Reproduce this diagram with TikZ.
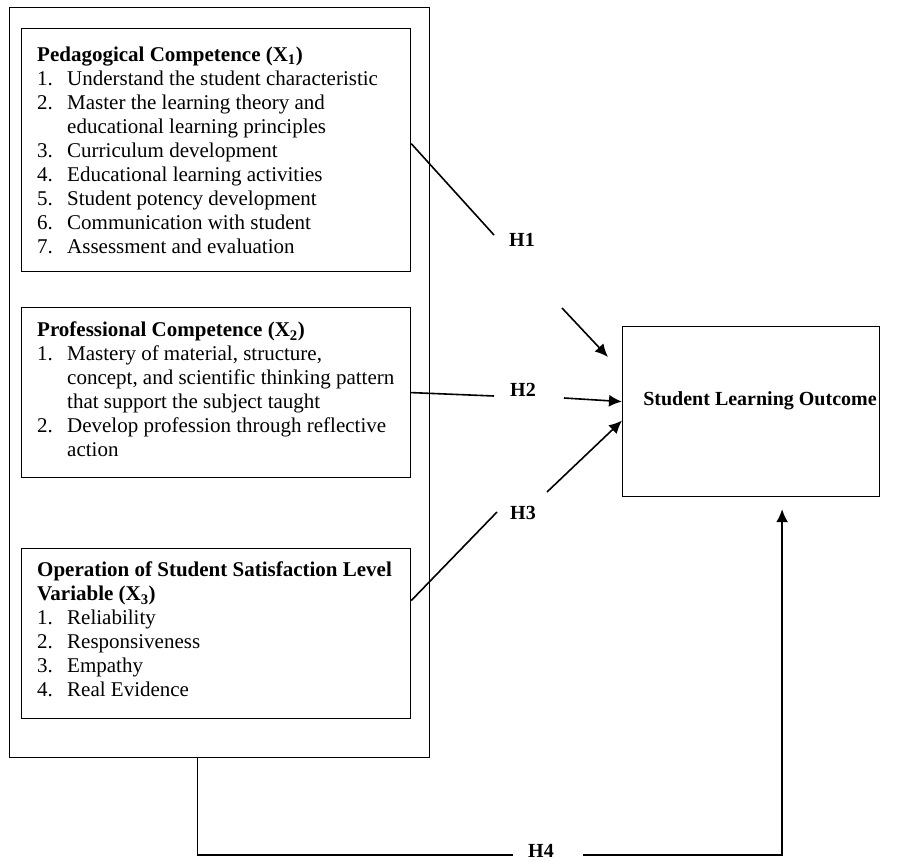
\documentclass[tikz,border=0pt]{standalone}
\usepackage{fontspec}
\setmainfont{Liberation Serif}
\usetikzlibrary{arrows.meta}
\begin{document}
\begin{tikzpicture}[x=1pt,y=-1pt,
  box/.style={draw,line width=1.2pt,inner sep=0pt,anchor=north west},
  conn/.style={line width=1.6pt},
  arr/.style={conn,-{Latex[length=13pt,width=12pt]}},
  txt/.style={inner sep=0pt,anchor=north west,align=left,font=\fontsize{21}{24}\selectfont},
  hlab/.style={inner sep=0pt,font=\fontsize{20}{24}\selectfont\bfseries}]
\useasboundingbox (0,0) rectangle (905,864);
\newcommand{\itm}[1]{\makebox[30pt][l]{#1}}
% boxes
\node[box,minimum width=420pt,minimum height=750pt] (outer) at (9,7) {};
\node[box,minimum width=389pt,minimum height=243pt] (b1) at (21,28) {};
\node[box,minimum width=389pt,minimum height=170pt] (b2) at (21,307) {};
\node[box,minimum width=389pt,minimum height=170pt] (b3) at (21,548) {};
\node[box,minimum width=257pt,minimum height=170pt] (out) at (622,326) {};
% texts
\node[txt] (t1) at (37,47) {\textbf{Pedagogical Competence (X\textsubscript{1})}\\
\itm{1.}Understand the student characteristic\\
\itm{2.}Master the learning theory and\\
\hspace*{30pt}educational learning principles\\
\itm{3.}Curriculum development\\
\itm{4.}Educational learning activities\\
\itm{5.}Student potency development\\
\itm{6.}Communication with student\\
\itm{7.}Assessment and evaluation};
\node[txt] (t2) at (37,322) {\textbf{Professional Competence (X\textsubscript{2})}\\
\itm{1.}Mastery of material, structure,\\
\hspace*{30pt}concept, and scientific thinking pattern\\
\hspace*{30pt}that support the subject taught\\
\itm{2.}Develop profession through reflective\\
\hspace*{30pt}action};
\node[txt] (t3) at (37,562) {\textbf{Operation of Student Satisfaction Level}\\
\textbf{Variable (X\textsubscript{3})}\\
\itm{1.}Reliability\\
\itm{2.}Responsiveness\\
\itm{3.}Empathy\\
\itm{4.}Real Evidence};
\node[inner sep=0pt,font=\fontsize{20}{24}\selectfont\bfseries] (outlab) at (760,401) {Student Learning Outcome};
% labels
\node[hlab] (h1) at (522,240) {H1};
\node[hlab] (h2) at (523,390) {H2};
\node[hlab] (h3) at (523,513) {H3};
\node[hlab] (h4) at (541,851) {H4};
% free ends
\coordinate (h1e) at (494,235);
\coordinate (a1s) at (562,308);
\coordinate (a1e) at (608,357);
\coordinate (h2e) at (494,396);
\coordinate (a2s) at (564,398);
\coordinate (h3e) at (497,512);
\coordinate (a3s) at (547,492);
\coordinate (h4a) at (513,855);
\coordinate (h4b) at (583,855);
% connectors
\draw[conn] ([yshift=6.5pt]b1.east) -- (h1e);
\draw[arr] (a1s) -- (a1e);
\draw[conn] (b2.east) -- (h2e);
\draw[arr] (a2s) -- ([yshift=10pt]out.west);
\draw[conn] ([yshift=33pt]b3.east) -- (h3e);
\draw[arr] (a3s) -- ([yshift=-9pt]out.west);
\draw[conn] ([xshift=-22pt]outer.south) |- (h4a);
\draw[arr] (h4b) -| ([xshift=31pt,yshift=-12pt]out.south);
\end{tikzpicture}
\end{document}
